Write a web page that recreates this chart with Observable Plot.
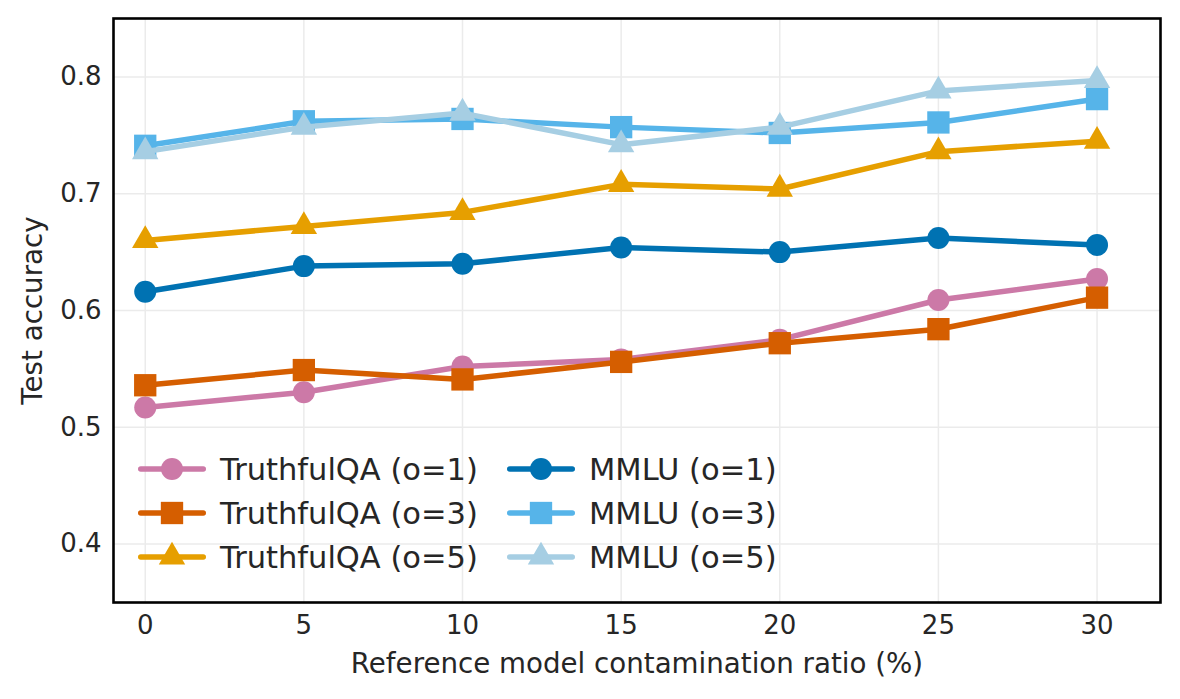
<!DOCTYPE html>
<html>
<head>
<meta charset="utf-8">
<script src="https://cdn.jsdelivr.net/npm/d3@7"></script>
<script src="https://cdn.jsdelivr.net/npm/@observablehq/plot@0.6"></script>
<style>
  html, body { margin: 0; padding: 0; background: #fff; }
  #wrap { position: relative; width: 1180px; height: 699px; font-family: "DejaVu Sans", sans-serif; color: #262626; }
  #legend { position: absolute; left: 0; top: 0; pointer-events: none; }
  .item { position: absolute; display: flex; align-items: center; font-size: 30.5px; white-space: nowrap; }
  .item svg { display: block; }
  .item span { margin-left: 14px; }
</style>
</head>
<body>
<div id="wrap"><div id="legend"></div></div>
<script>
// ---- data ----
const ratios = [0, 5, 10, 15, 20, 25, 30];
const seriesNames = ["TruthfulQA (o=1)", "TruthfulQA (o=3)", "TruthfulQA (o=5)", "MMLU (o=1)", "MMLU (o=3)", "MMLU (o=5)"];
const truthfulqa_o1 = [0.517, 0.530, 0.552, 0.558, 0.575, 0.609, 0.627];
const truthfulqa_o3 = [0.536, 0.549, 0.541, 0.556, 0.572, 0.584, 0.611];
const truthfulqa_o5 = [0.660, 0.672, 0.684, 0.708, 0.704, 0.736, 0.745];
const mmlu_o1 = [0.616, 0.638, 0.640, 0.654, 0.650, 0.662, 0.656];
const mmlu_o3 = [0.741, 0.762, 0.764, 0.757, 0.752, 0.761, 0.781];
const mmlu_o5 = [0.736, 0.757, 0.769, 0.742, 0.757, 0.788, 0.797];
const xTicks = [0, 5, 10, 15, 20, 25, 30];
const yTicks = [0.4, 0.5, 0.6, 0.7, 0.8];
const xLabel = "Reference model contamination ratio (%)";
const yLabel = "Test accuracy";

// ---- styles ----
const seriesValues = [truthfulqa_o1, truthfulqa_o3, truthfulqa_o5, mmlu_o1, mmlu_o3, mmlu_o5];
const colors = ["#CC79A7", "#D55E00", "#E69F00", "#0072B2", "#56B4E9", "#A6CEE3"];
const symbols = ["circle", "square", "triangle", "circle", "square", "triangle"];
const symbolR = { circle: 11, square: 12.6, triangle: 9.8 };
const d3Symbols = { circle: d3.symbolCircle, square: d3.symbolSquare, triangle: d3.symbolTriangle };

const rows = [];
seriesNames.forEach((name, i) => {
  ratios.forEach((r, j) => rows.push({ series: name, ratio: r, acc: seriesValues[i][j] }));
});

const marks = [
  Plot.gridX(xTicks, { stroke: "#ebebeb", strokeOpacity: 1, strokeWidth: 1.5 }),
  Plot.gridY(yTicks, { stroke: "#ebebeb", strokeOpacity: 1, strokeWidth: 1.5 })
];
seriesNames.forEach((name, i) => {
  const d = rows.filter(r => r.series === name);
  marks.push(Plot.line(d, { x: "ratio", y: "acc", stroke: colors[i], strokeWidth: 5.5, strokeLinejoin: "round", strokeLinecap: "round" }));
  marks.push(Plot.dot(d, { x: "ratio", y: "acc", fill: colors[i], stroke: "none", symbol: symbols[i], r: symbolR[symbols[i]] }));
});
marks.push(Plot.frame({ stroke: "black", strokeWidth: 2.6 }));
marks.push(Plot.axisX(xTicks, { tickSize: 0, tickPadding: 13, fontSize: 26, label: null }));
marks.push(Plot.axisY(yTicks, { tickSize: 0, tickPadding: 12, fontSize: 26, tickFormat: d3.format(".1f"), label: null }));
marks.push(Plot.text([xLabel], { text: d => d, frameAnchor: "bottom", dy: 62, textAnchor: "middle", lineAnchor: "middle", fontSize: 27.7, fill: "currentColor" }));
marks.push(Plot.text([yLabel], { text: d => d, frameAnchor: "left", dx: -80, rotate: -90, textAnchor: "middle", lineAnchor: "middle", fontSize: 27.7, fill: "currentColor" }));

const chart = Plot.plot({
  width: 1180,
  height: 699,
  marginLeft: 113,
  marginRight: 20,
  marginTop: 18,
  marginBottom: 97,
  x: { domain: [-1, 32] },
  y: { domain: [0.35, 0.85] },
  style: { fontFamily: "DejaVu Sans, sans-serif", fontSize: "26px", color: "#262626", background: "white" },
  marks
});
document.getElementById("wrap").prepend(chart);

// ---- legend (HTML overlay) ----
const legend = document.getElementById("legend");
const colLeft = [138, 507];
const rowTop = [469, 513, 557];
seriesNames.forEach((name, i) => {
  const col = Math.floor(i / 3), row = i % 3;
  const item = document.createElement("div");
  item.className = "item";
  item.style.left = colLeft[col] + "px";
  item.style.top = (rowTop[row] - 20) + "px";
  item.style.height = "40px";
  const sym = d3.symbol(d3Symbols[symbols[i]], Math.PI * symbolR[symbols[i]] ** 2)();
  item.innerHTML = `<svg width="68" height="40" viewBox="0 0 68 40">
      <line x1="2.75" y1="20" x2="65.25" y2="20" stroke="${colors[i]}" stroke-width="5.5" stroke-linecap="round"/>
      <path d="${sym}" transform="translate(34,20)" fill="${colors[i]}"/>
    </svg><span>${name}</span>`;
  legend.appendChild(item);
});
</script>
</body>
</html>
